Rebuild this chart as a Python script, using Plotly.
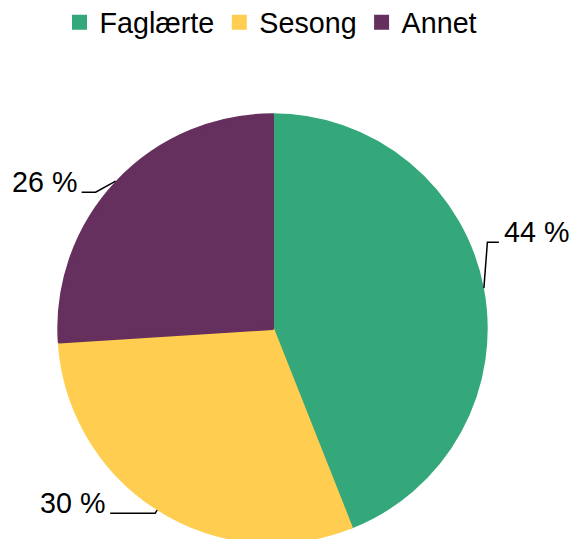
import math
import plotly.graph_objects as go

# ---- data ----
categories = ["Faglærte", "Sesong", "Annet"]
values = [44, 30, 26]
colors = ["#34A77B", "#FFCD50", "#652F5E"]

# ---- layout constants (pixels) ----
W, H = 572, 544          # figure a touch taller than the window; bottom of pie is cropped
CX, CY, R = 272.5, 328.5, 215.2
EDGE = 3.0               # slice outline (same colour as slice) -> bigger legend squares
RD = R - EDGE / 2        # domain radius so outer edge lands at R
FONT = "Arial, Liberation Sans, sans-serif"
FS = 28.7

# leader line style per slice: (elbow dx, elbow dy, end dx, end dy, side)
leader = {
    "Faglærte": (3.5, -46, 15, -46, "right"),
    "Sesong": (-2, 3, -47, 3, "left"),
    "Annet": (-20, 11, -34, 11, "left"),
}


def px(x):
    return x / W


def py(y):
    return (H - y) / H


fig = go.Figure(
    go.Pie(
        labels=categories,
        values=values,
        marker=dict(colors=colors, line=dict(width=EDGE, color=colors)),
        sort=False,
        direction="clockwise",
        rotation=0,
        textinfo="none",
        hoverinfo="label+percent",
        domain=dict(x=[px(CX - RD), px(CX + RD)], y=[py(CY + RD), py(CY - RD)]),
    )
)

total = sum(values)
cum = 0.0
annotations = []
shapes = []
for cat, v in zip(categories, values):
    mid = (cum + v / 2) / total
    cum += v
    ang = math.radians(90 - 360 * mid)
    ex, ey = CX + R * math.cos(ang), CY - R * math.sin(ang)
    edx, edy, ndx, ndy, side = leader[cat]
    bx, by = ex + edx, ey + edy
    nx, ny = ex + ndx, ey + ndy
    shapes.append(dict(type="path", xref="paper", yref="paper",
                       path=f"M{px(ex)},{py(ey)} L{px(bx)},{py(by)} L{px(nx)},{py(ny)}",
                       line=dict(color="black", width=1.5)))
    pct = round(100 * v / total)
    annotations.append(dict(
        x=px(nx + (3 if side == "right" else -3)), y=py(ny - 10.5),
        xref="paper", yref="paper", text=f"{pct} %", showarrow=False,
        xanchor="left" if side == "right" else "right", yanchor="middle",
        font=dict(family=FONT, size=FS, color="black"),
    ))

fig.update_layout(
    width=W, height=H,
    margin=dict(l=0, r=0, t=0, b=0, autoexpand=False),
    paper_bgcolor="white", plot_bgcolor="white",
    showlegend=True,
    legend=dict(orientation="h", x=0.5 - 15 / W, xanchor="center",
                y=1 + 3 / H, yanchor="top",
                font=dict(family=FONT, size=FS, color="black"),
                itemwidth=30, traceorder="normal"),
    annotations=annotations,
    shapes=shapes,
)

fig.write_html(
    "out.html",
    config={"displayModeBar": False},
    post_script="document.body.style.margin='0';document.body.style.overflow='hidden';",
)
